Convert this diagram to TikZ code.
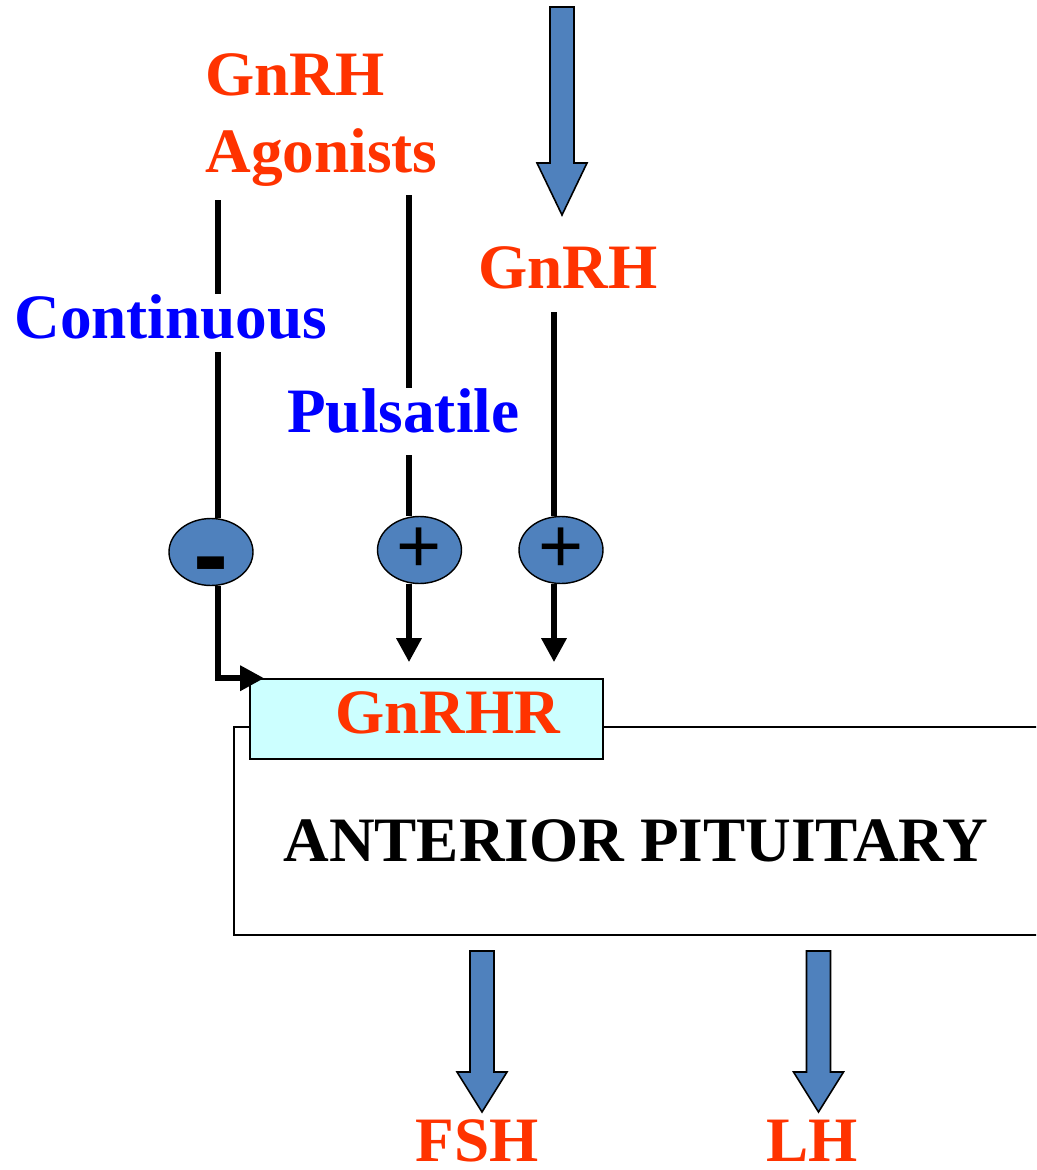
\documentclass[tikz,border=0pt]{standalone}
\usepackage{fontspec}
\setmainfont{Liberation Serif}
\newfontfamily\signfont{Liberation Sans}
\usetikzlibrary{arrows.meta,shapes.geometric}
\definecolor{hormred}{HTML}{FF3300}
\definecolor{modeblue}{HTML}{0000FF}
\definecolor{steel}{HTML}{4F81BD}
\definecolor{rcptcyan}{HTML}{CCFFFF}
\tikzset{
  lbl/.style={font=\fontsize{36}{40}\selectfont\bfseries, inner sep=0pt, anchor=base west},
  hormlbl/.style={lbl, text=hormred},
  modelbl/.style={lbl, text=modeblue, fill=white},
  feed/.style={line width=3.4pt},
  feedtip/.style={-{Triangle[length=0.48cm,width=0.48cm]}},
  signell/.style={ellipse, draw, line width=0.8pt, fill=steel, minimum width=1.68cm,
    minimum height=1.34cm, inner sep=0pt},
  plussign/.style={font=\signfont\fontsize{44}{44}\selectfont},
  blockarr/.style={draw, line width=0.9pt, fill=steel, line join=miter}
}
% block arrow: start point, shaft length, head length
\newcommand{\blkarrow}[3]{\draw[blockarr] (#1) ++(-12,0) -- ++(24,0) -- ++(0,#2)
  -- ++(13,0) -- ++(-25,#3) -- ++(-25,-#3) -- ++(13,0) -- cycle;}
\begin{document}
\begin{tikzpicture}[x=0.02cm,y=-0.02cm]
  \clip (0,0) rectangle (1036,1170);
  % pituitary and receptor
  \node[draw, line width=0.9pt, minimum width=16.12cm, minimum height=4.16cm] (pit) at (637,831) {};
  \node[draw, line width=0.9pt, fill=rcptcyan, minimum width=7.06cm, minimum height=1.6cm] (rcpt) at (426.5,719) {};
  \node[hormlbl] (rcptlbl) at (335,733) {GnRHR};
  \node[lbl] (pitlbl) at (283,861) {ANTERIOR PITUITARY};
  % signs
  \node[signell] (minus) at (211,552) {};
  \node[font=\signfont\fontsize{60}{60}\selectfont\bfseries, yshift=-12.4pt] (minussym) at (211,552) {-};
  \node[signell, plussign] (plusa) at (419.5,550) {+};
  \node[signell, plussign] (plusb) at (561,550) {+};
  % feed lines
  \coordinate (s1) at (218,200);
  \coordinate (s2) at (409,195);
  \coordinate (s3) at (554,312);
  \draw[feed] (s1) -- (minus.north -| s1);
  \draw[feed] (s2) -- (plusa.north -| s2);
  \draw[feed] (s3) -- (plusb.north -| s3);
  \draw[feed, feedtip] (minus.south -| s1) |- ([xshift=0.3cm]rcpt.north west);
  \draw[feed, feedtip, shorten >=0.32cm] (plusa.south -| s2) -- (rcpt.north -| s2);
  \draw[feed, feedtip, shorten >=0.32cm] (plusb.south -| s3) -- (rcpt.north -| s3);
  % labels
  \node[hormlbl] (agon) at (205,95) {GnRH};
  \node[hormlbl] (agonb) at (205,172) {Agonists};
  \node[hormlbl] (gnrh) at (478,288) {GnRH};
  \node[modelbl, text depth=0.28cm] (cont) at (14,338) {Continuous};
  \node[modelbl, text depth=0.46cm] (puls) at (287,432) {Pulsatile};
  \node[hormlbl] (fsh) at (415,1161) {FSH};
  \node[hormlbl] (lh) at (766,1161) {LH};
  % block arrows
  \coordinate (topin) at (562,7);
  \coordinate (fshin) at (482,951);
  \coordinate (lhin) at (818.5,951);
  \blkarrow{topin}{156}{52}
  \blkarrow{fshin}{121}{40}
  \blkarrow{lhin}{121}{40}
\end{tikzpicture}
\end{document}
